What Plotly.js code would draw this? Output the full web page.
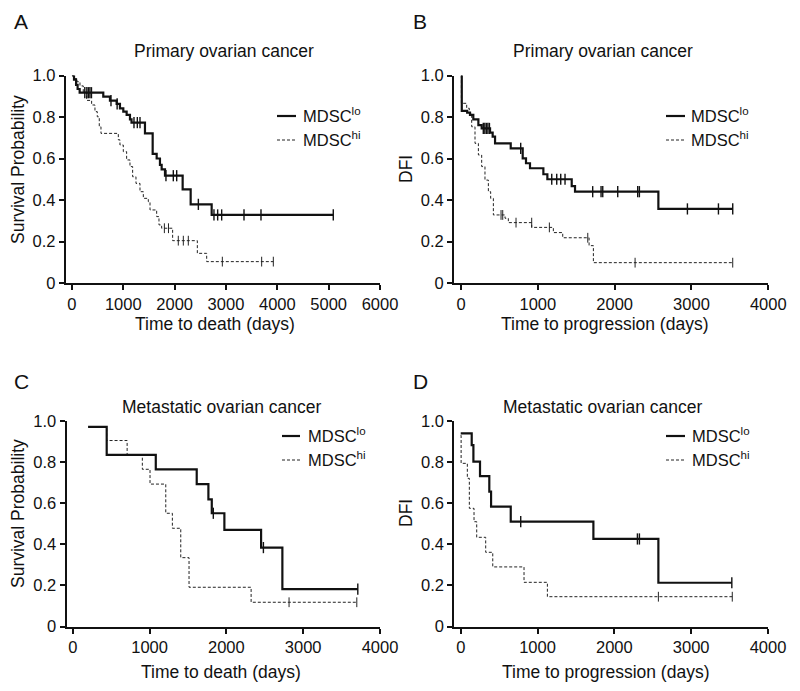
<!DOCTYPE html>
<html>
<head>
<meta charset="utf-8">
<script src="https://cdn.plot.ly/plotly-3.0.1.min.js"></script>
<style>html,body{margin:0;padding:0;background:#fff;}#chart{width:800px;height:691px;}</style>
</head>
<body>
<div id="chart"></div>
<script>
// ---------- DATA ----------
// Panel A: Primary ovarian cancer, overall survival
const A_lo_t = [0, 40, 80, 110, 150, 610, 740, 870, 935, 1000, 1065, 1130, 1160, 1422, 1572, 1650, 1714, 1747, 1812, 2156, 2312, 2721, 5090];
const A_lo_s = [1.0, 0.98, 0.955, 0.935, 0.917, 0.898, 0.879, 0.863, 0.842, 0.826, 0.81, 0.789, 0.773, 0.721, 0.622, 0.6, 0.569, 0.548, 0.517, 0.451, 0.379, 0.328, 0.328];
const A_lo_ct = [250, 290, 320, 350, 380, 760, 880, 1208, 1273, 1325, 1831, 1974, 2040, 2462, 2766, 2838, 2916, 3351, 3682, 5090];
const A_lo_cs = [0.917, 0.917, 0.917, 0.917, 0.917, 0.879, 0.863, 0.773, 0.773, 0.773, 0.517, 0.517, 0.517, 0.379, 0.328, 0.328, 0.328, 0.328, 0.328, 0.328];
const A_hi_t = [0, 40, 100, 156, 220, 286, 383, 448, 493, 532, 565, 903, 935, 1000, 1065, 1130, 1182, 1247, 1325, 1390, 1487, 1520, 1650, 1695, 1747, 1961, 2442, 2624, 3922];
const A_hi_s = [1.0, 0.985, 0.97, 0.95, 0.92, 0.88, 0.858, 0.826, 0.801, 0.753, 0.721, 0.69, 0.665, 0.633, 0.593, 0.561, 0.512, 0.48, 0.44, 0.408, 0.392, 0.352, 0.32, 0.28, 0.264, 0.204, 0.143, 0.103, 0.103];
const A_hi_ct = [1800, 1880, 2071, 2169, 2266, 2929, 3695, 3922];
const A_hi_cs = [0.264, 0.264, 0.204, 0.204, 0.204, 0.103, 0.103, 0.103];

// Panel B: Primary ovarian cancer, DFI
const B_lo_t = [0, 10, 80, 117, 160, 226, 269, 378, 412, 443, 647, 803, 846, 898, 1072, 1124, 1441, 1484, 2569, 3537];
const B_lo_s = [1.0, 0.83, 0.821, 0.81, 0.789, 0.761, 0.745, 0.725, 0.705, 0.673, 0.649, 0.601, 0.577, 0.553, 0.524, 0.5, 0.467, 0.44, 0.357, 0.357];
const B_lo_ct = [290, 310, 330, 350, 370, 777, 1181, 1246, 1298, 1354, 1714, 1823, 1845, 2040, 2300, 2322, 2947, 3351, 3537];
const B_lo_cs = [0.745, 0.745, 0.745, 0.745, 0.745, 0.649, 0.5, 0.5, 0.5, 0.5, 0.44, 0.44, 0.44, 0.44, 0.44, 0.44, 0.357, 0.357, 0.357];
const B_hi_t = [0, 5, 74, 108, 139, 182, 226, 269, 312, 356, 386, 421, 573, 616, 920, 1202, 1324, 1667, 1723, 3537];
const B_hi_s = [1.0, 0.866, 0.842, 0.818, 0.753, 0.673, 0.617, 0.561, 0.496, 0.44, 0.408, 0.328, 0.312, 0.291, 0.268, 0.243, 0.218, 0.18, 0.098, 0.098];
const B_hi_ct = [521, 543, 716, 920, 1150, 1650, 2266, 3537];
const B_hi_cs = [0.328, 0.328, 0.291, 0.291, 0.268, 0.218, 0.098, 0.098];

// Panel C: Metastatic ovarian cancer, overall survival
const C_lo_t = [200, 442, 1081, 1614, 1766, 1810, 1974, 2452, 2729, 3711];
const C_lo_s = [0.971, 0.835, 0.765, 0.693, 0.619, 0.551, 0.47, 0.384, 0.182, 0.182];
const C_lo_ct = [1830, 2482, 3711];
const C_lo_cs = [0.551, 0.384, 0.182];
const C_hi_t = [200, 442, 708, 906, 1006, 1211, 1297, 1406, 1514, 2322, 3698];
const C_hi_s = [0.971, 0.905, 0.835, 0.765, 0.693, 0.551, 0.478, 0.335, 0.191, 0.118, 0.118];
const C_hi_ct = [2816, 3698];
const C_hi_cs = [0.118, 0.118];

// Panel D: Metastatic ovarian cancer, DFI
const D_lo_t = [0, 143, 165, 251, 372, 395, 651, 1727, 2573, 3529];
const D_lo_s = [0.94, 0.883, 0.802, 0.732, 0.656, 0.583, 0.51, 0.426, 0.213, 0.213];
const D_lo_ct = [781, 2300, 2326, 3529];
const D_lo_cs = [0.51, 0.426, 0.426, 0.213];
const D_hi_t = [0, 5, 86, 112, 173, 208, 325, 417, 824, 1128, 3535];
const D_hi_s = [0.93, 0.794, 0.721, 0.575, 0.51, 0.434, 0.361, 0.29, 0.215, 0.145, 0.145];
const D_hi_ct = [2573, 3535];
const D_hi_cs = [0.145, 0.145];

const yTickVals = [0, 0.2, 0.4, 0.6, 0.8, 1.0];
const yTickText = ['0', '0.2', '0.4', '0.6', '0.8', '1.0'];
const xTicksA = [0, 1000, 2000, 3000, 4000, 5000, 6000];
const xTicks4k = [0, 1000, 2000, 3000, 4000];

const panelLetters = ['A', 'B', 'C', 'D'];
const panelTitles = ['Primary ovarian cancer', 'Primary ovarian cancer', 'Metastatic ovarian cancer', 'Metastatic ovarian cancer'];
const xTitles = ['Time to death (days)', 'Time to progression (days)', 'Time to death (days)', 'Time to progression (days)'];
const yTitles = ['Survival Probability', 'DFI', 'Survival Probability', 'DFI'];
const legendLo = 'MDSC<sup>lo</sup>';
const legendHi = 'MDSC<sup>hi</sup>';

// ---------- BUILD ----------
const W = 800, H = 691;
const FONT = 'Liberation Sans, Arial, sans-serif';
const INK = '#111';
const DASHINK = '#222';
const px = x => x / W;
const py = y => 1 - y / H;

const traces = [];
function addPanel(xa, ya, lt, ls, lct, lcs, ht, hs, hct, hcs) {
  traces.push({x: ht, y: hs, xaxis: xa, yaxis: ya, mode: 'lines', line: {shape: 'hv', color: DASHINK, width: 1, dash: '3px,2px'}, cliponaxis: false, showlegend: false, hoverinfo: 'skip'});
  traces.push({x: hct, y: hcs, xaxis: xa, yaxis: ya, mode: 'markers', marker: {symbol: 'line-ns-open', size: 7, color: DASHINK, line: {color: DASHINK, width: 1}}, cliponaxis: false, showlegend: false, hoverinfo: 'skip'});
  traces.push({x: lt, y: ls, xaxis: xa, yaxis: ya, mode: 'lines', line: {shape: 'hv', color: INK, width: 2.2}, cliponaxis: false, showlegend: false, hoverinfo: 'skip'});
  traces.push({x: lct, y: lcs, xaxis: xa, yaxis: ya, mode: 'markers', marker: {symbol: 'line-ns-open', size: 8, color: INK, line: {color: INK, width: 1.4}}, cliponaxis: false, showlegend: false, hoverinfo: 'skip'});
}
addPanel('x', 'y', A_lo_t, A_lo_s, A_lo_ct, A_lo_cs, A_hi_t, A_hi_s, A_hi_ct, A_hi_cs);
addPanel('x2', 'y2', B_lo_t, B_lo_s, B_lo_ct, B_lo_cs, B_hi_t, B_hi_s, B_hi_ct, B_hi_cs);
addPanel('x3', 'y3', C_lo_t, C_lo_s, C_lo_ct, C_lo_cs, C_hi_t, C_hi_s, C_hi_ct, C_hi_cs);
addPanel('x4', 'y4', D_lo_t, D_lo_s, D_lo_ct, D_lo_cs, D_hi_t, D_hi_s, D_hi_ct, D_hi_cs);

function xAxis(range, ticks, dom, anchor) {
  return {domain: dom, range: range, anchor: anchor, tickvals: ticks, ticktext: ticks.map(String),
    showline: true, linecolor: INK, linewidth: 2, ticks: 'outside', ticklen: 5, tickwidth: 2, tickcolor: INK,
    showgrid: false, zeroline: false, fixedrange: true, automargin: false,
    tickfont: {family: FONT, size: 16.5, color: INK}};
}
function yAxis(dom, anchor) {
  return {domain: dom, range: [0, 1], anchor: anchor, tickvals: yTickVals, ticktext: yTickText,
    showline: true, linecolor: INK, linewidth: 2, ticks: 'outside', ticklen: 5, tickwidth: 2, tickcolor: INK,
    showgrid: false, zeroline: false, fixedrange: true, automargin: false,
    tickfont: {family: FONT, size: 16.5, color: INK}};
}
const yTop = [py(283), py(75.5)];
const yBot = [py(626.5), py(421)];

const layout = {
  width: W, height: H, margin: {l: 0, r: 0, t: 0, b: 0},
  paper_bgcolor: '#fff', plot_bgcolor: '#fff', showlegend: false,
  xaxis: xAxis([-120, 6000], xTicksA, [px(65.8), px(380)], 'y'),
  yaxis: yAxis(yTop, 'x'),
  xaxis2: xAxis([-90, 4000], xTicks4k, [px(454.1), px(768.3)], 'y2'),
  yaxis2: yAxis(yTop, 'x2'),
  xaxis3: xAxis([-80, 4000], xTicks4k, [px(66.6), px(380)], 'y3'),
  yaxis3: yAxis(yBot, 'x3'),
  xaxis4: xAxis([-85, 4000], xTicks4k, [px(454.2), px(768)], 'y4'),
  yaxis4: yAxis(yBot, 'x4'),
  annotations: [], shapes: []
};

function ann(text, x, y, size, opts) {
  layout.annotations.push(Object.assign({text: text, x: px(x), y: py(y), xref: 'paper', yref: 'paper',
    showarrow: false, xanchor: 'center', yanchor: 'middle', font: {family: FONT, size: size, color: INK}}, opts || {}));
}
const letterPos = [[21, 22], [420, 22], [21, 382], [420, 382]];
const titlePos = [[224, 51], [603, 51], [222, 407], [603, 407]];
const xTitlePos = [[215, 324], [604, 324], [221, 672], [605, 672]];
const yTitlePos = [[18, 170], [406, 169], [18, 514], [406, 513]];
for (let i = 0; i < 4; i++) {
  ann(panelLetters[i], letterPos[i][0], letterPos[i][1], 21);
  ann(panelTitles[i], titlePos[i][0], titlePos[i][1], 17.5);
  ann(xTitles[i], xTitlePos[i][0], xTitlePos[i][1], 17.5);
  ann(yTitles[i], yTitlePos[i][0], yTitlePos[i][1], 17.5, {textangle: -90});
}
// legends: [lineX0, lineX1, textX, yLo, yHi]
const legPos = [[277, 296, 301, 116, 140], [666, 685, 689, 116, 140], [282, 300, 306, 436, 460], [666, 685, 690, 436, 460]];
for (const L of legPos) {
  layout.shapes.push({type: 'line', xref: 'paper', yref: 'paper', x0: px(L[0]), x1: px(L[1]), y0: py(L[3]), y1: py(L[3]), line: {color: INK, width: 2.2}});
  layout.shapes.push({type: 'line', xref: 'paper', yref: 'paper', x0: px(L[0]), x1: px(L[1]), y0: py(L[4]), y1: py(L[4]), line: {color: DASHINK, width: 1, dash: '3px,2px'}});
  ann(legendLo, L[2], L[3] - 1, 16.5, {xanchor: 'left'});
  ann(legendHi, L[2], L[4] - 1, 16.5, {xanchor: 'left'});
}

Plotly.newPlot('chart', traces, layout, {staticPlot: true, displayModeBar: false});
</script>
</body>
</html>
